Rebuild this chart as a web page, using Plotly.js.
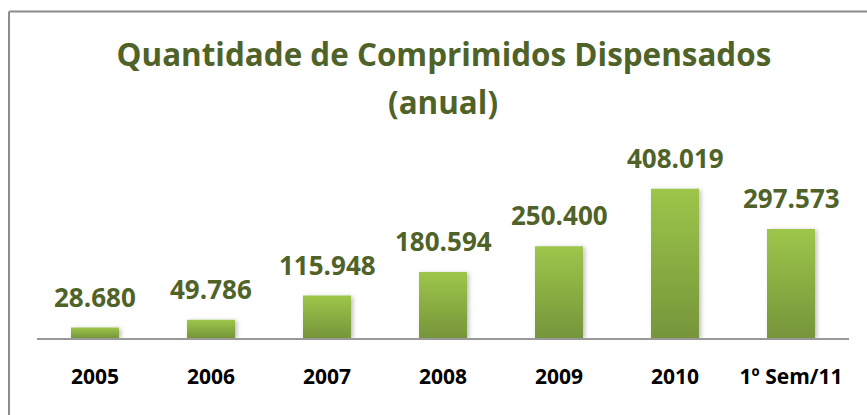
<!DOCTYPE html>
<html>
<head>
<meta charset="utf-8">
<script src="https://cdn.plot.ly/plotly-3.0.1.min.js"></script>
<style>
  html, body { margin: 0; padding: 0; background: #fff; }
  #chart { width: 867px; height: 415px; }
</style>
</head>
<body>
<div id="chart"></div>
<script>
// ---- data ----
const categories = ['2005', '2006', '2007', '2008', '2009', '2010', '1º Sem/11'];
const values = [28680, 49786, 115948, 180594, 250400, 408019, 297573];
const titleLine1 = 'Quantidade de Comprimidos Dispensados';
const titleLine2 = '(anual)';

const olive = '#4F6228';
const font = 'Open Sans, Noto Sans, sans-serif';

// on a category axis, annotation positions are category indices
const labelAnnotations = categories.map((c, i) => ({
  x: i, y: values[i], xref: 'x', yref: 'y',
  text: values[i].toLocaleString('de-DE'),
  showarrow: false, yanchor: 'bottom', yshift: 11,
  font: { family: font, size: 26, color: olive, weight: 700 }
}));

const trace = {
  type: 'bar',
  x: categories,
  y: values,
  marker: { color: '#8AB043', line: { width: 0 } },
  hoverinfo: 'x+y'
};

const layout = {
  width: 867, height: 415,
  margin: { l: 37, r: 18, t: 155, b: 77, pad: 0 },
  paper_bgcolor: '#ffffff', plot_bgcolor: '#ffffff',
  separators: ',.',
  showlegend: false,
  bargap: 0.586,
  title: {
    text: titleLine1,
    x: 0.512, xanchor: 'center', xref: 'container',
    y: 1 - 55 / 415, yanchor: 'middle', yref: 'container',
    font: { family: font, size: 31.4, color: olive, weight: 700 }
  },
  xaxis: {
    type: 'category',
    categoryorder: 'array', categoryarray: categories,
    range: [-0.5, categories.length - 0.5],
    showline: true, linecolor: '#999999', linewidth: 2,
    showgrid: false, zeroline: false, ticks: '',
    ticklabelstandoff: 19,
    tickfont: { family: font, size: 21, color: '#000000', weight: 700 },
    fixedrange: true
  },
  yaxis: {
    range: [0, 500000],
    visible: false, showgrid: false, zeroline: false, fixedrange: true
  },
  annotations: [
    {
      x: 0.5, xref: 'paper', y: 1.293, yref: 'paper',
      text: titleLine2, showarrow: false, xanchor: 'center', yanchor: 'middle',
      font: { family: font, size: 31.4, color: olive, weight: 700 }
    }
  ].concat(labelAnnotations),
  shapes: [
    { type: 'line', xref: 'paper', yref: 'paper', x0: -0.0345, x1: 1.2, y0: 1.784, y1: 1.784,
      line: { color: '#8c8c8c', width: 2 } },
    { type: 'line', xref: 'paper', yref: 'paper', x0: -0.0345, x1: -0.0345, y0: 1.784, y1: -1,
      line: { color: '#8c8c8c', width: 2 } }
  ]
};

Plotly.newPlot('chart', [trace], layout, { displayModeBar: false, staticPlot: true }).then(gd => {
  const svg = gd.querySelector('.main-svg');
  const ns = 'http://www.w3.org/2000/svg';
  let defs = svg.querySelector('defs');
  if (!defs) { defs = document.createElementNS(ns, 'defs'); svg.insertBefore(defs, svg.firstChild); }
  const grad = document.createElementNS(ns, 'linearGradient');
  grad.setAttribute('id', 'barGrad');
  grad.setAttribute('x1', '0'); grad.setAttribute('y1', '0');
  grad.setAttribute('x2', '0'); grad.setAttribute('y2', '1');
  [['0', '#9DC64A'], ['1', '#76953A']].forEach(([o, c]) => {
    const s = document.createElementNS(ns, 'stop');
    s.setAttribute('offset', o); s.setAttribute('stop-color', c);
    grad.appendChild(s);
  });
  defs.appendChild(grad);
  const filt = document.createElementNS(ns, 'filter');
  filt.setAttribute('id', 'barShadow');
  filt.setAttribute('x', '-20%'); filt.setAttribute('y', '-20%');
  filt.setAttribute('width', '150%'); filt.setAttribute('height', '150%');
  const ds = document.createElementNS(ns, 'feDropShadow');
  ds.setAttribute('dx', '2'); ds.setAttribute('dy', '1');
  ds.setAttribute('stdDeviation', '2'); ds.setAttribute('flood-color', '#000');
  ds.setAttribute('flood-opacity', '0.25');
  filt.appendChild(ds);
  defs.appendChild(filt);
  gd.querySelectorAll('.bars .point path').forEach(p => {
    p.style.fill = 'url(#barGrad)';
    p.setAttribute('filter', 'url(#barShadow)');
  });
});
</script>
</body>
</html>
